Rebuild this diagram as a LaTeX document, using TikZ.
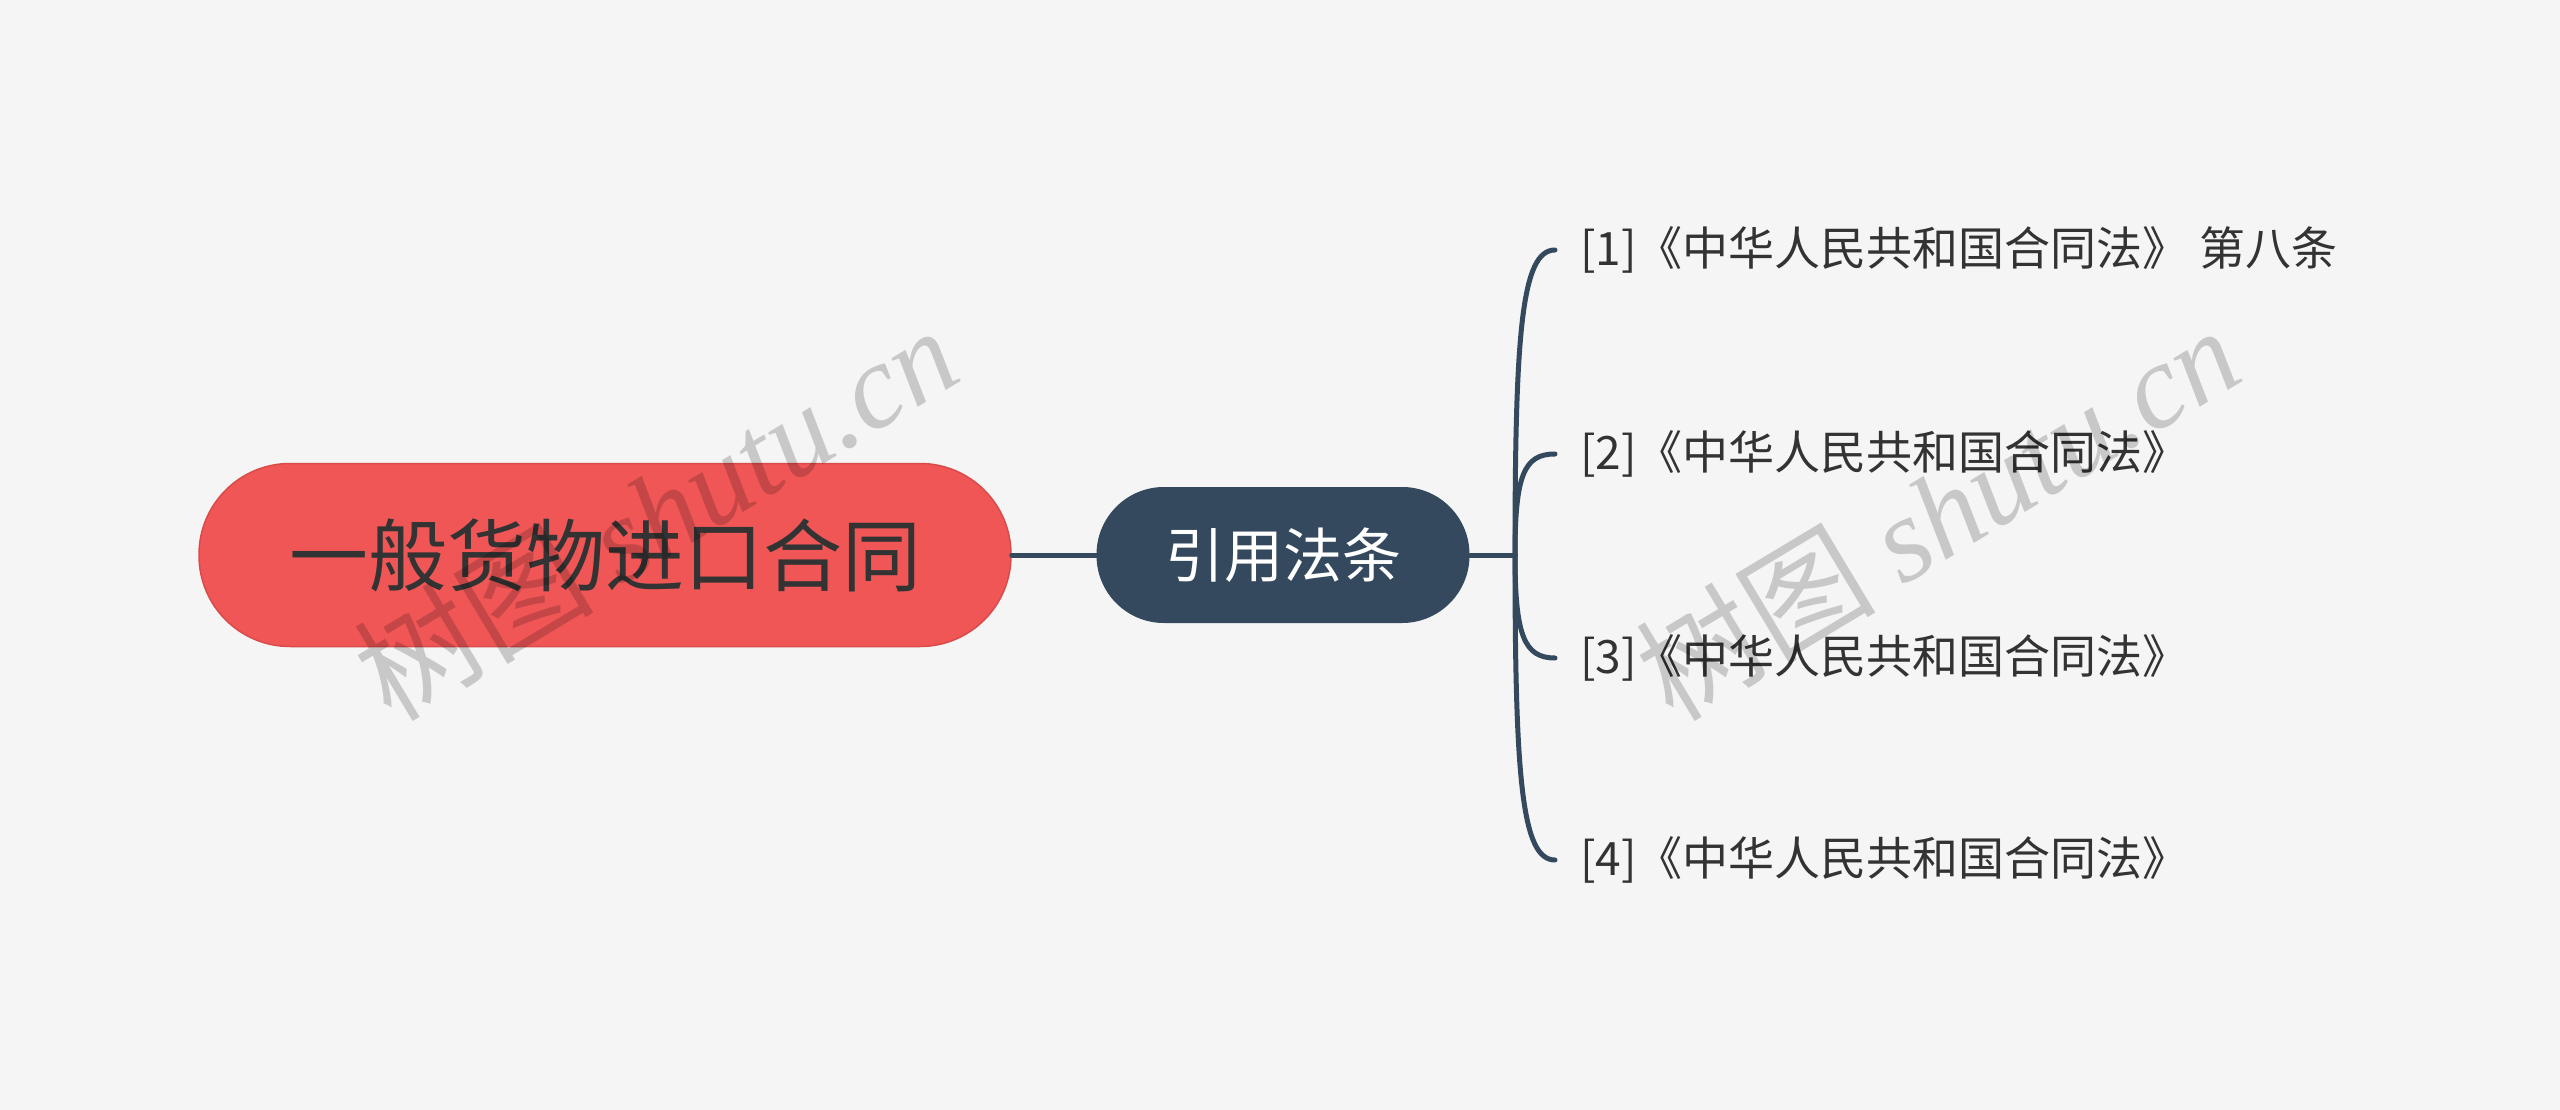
\documentclass[tikz,border=0pt]{standalone}
\usepackage{fontspec}
\setmainfont{Noto Sans CJK SC}
\newfontfamily\cjk{Noto Sans CJK SC}
\newfontfamily\wmserif{Liberation Serif}
\definecolor{bg}{HTML}{F5F5F5}
\definecolor{rootred}{HTML}{F05656}
\definecolor{rootedge}{HTML}{D94B4B}
\definecolor{slate}{HTML}{34495E}
\definecolor{txt}{HTML}{333333}
\tikzset{
  rootbox/.style={rectangle, rounded corners=91pt, fill=rootred, draw=rootedge, line width=1.5pt,
    minimum width=812pt, minimum height=183pt, text=txt, font=\fontsize{79pt}{81pt}\selectfont, inner sep=0pt},
  midbox/.style={rectangle, rounded corners=67pt, fill=slate, draw=slate, line width=1pt,
    minimum width=372pt, minimum height=135pt, text=white, font=\fontsize{59pt}{61pt}\selectfont, inner sep=0pt},
  leaf/.style={anchor=west, text=txt, font=\fontsize{46pt}{48pt}\selectfont, inner xsep=25pt, inner ysep=0pt},
  conn/.style={draw=slate, line width=5pt, line cap=round},
  wm/.style={text=black, text opacity=0.18, rotate=31, font=\fontsize{120pt}{122pt}\selectfont, inner sep=0pt}
}
\begin{document}
\begin{tikzpicture}[x=1pt,y=-1pt]
\fill[bg] (0,0) rectangle (2560,1110);
\useasboundingbox (0,0) rectangle (2560,1110);

\node[rootbox] (root) at (605,555) {一般货物进口合同};
\node[midbox] (mid) at (1283,555) {引用法条};
\coordinate (j) at (1515,555);

\node[leaf] (l1) at (1555,250) {[1]《中华人民共和国合同法》 第八条};
\node[leaf] (l2) at (1555,454) {[2]《中华人民共和国合同法》};
\node[leaf] (l3) at (1555,658) {[3]《中华人民共和国合同法》};
\node[leaf] (l4) at (1555,860) {[4]《中华人民共和国合同法》};

\draw[conn] (root.east) -- (mid.west);
\draw[conn] (mid.east) -- (j);
\draw[conn] (j) .. controls (1515,330) and (1522,250) .. (l1.west);
\draw[conn] (j) .. controls (1515,475) and (1524,454) .. (l2.west);
\draw[conn] (j) .. controls (1515,635) and (1524,658) .. (l3.west);
\draw[conn] (j) .. controls (1515,780) and (1522,860) .. (l4.west);

\node[wm] (wm1) at (655,512) {{\cjk 树图} {\wmserif\itshape shutu.cn}};
\node[wm] (wm2) at (1937,512) {{\cjk 树图} {\wmserif\itshape shutu.cn}};
\end{tikzpicture}
\end{document}
